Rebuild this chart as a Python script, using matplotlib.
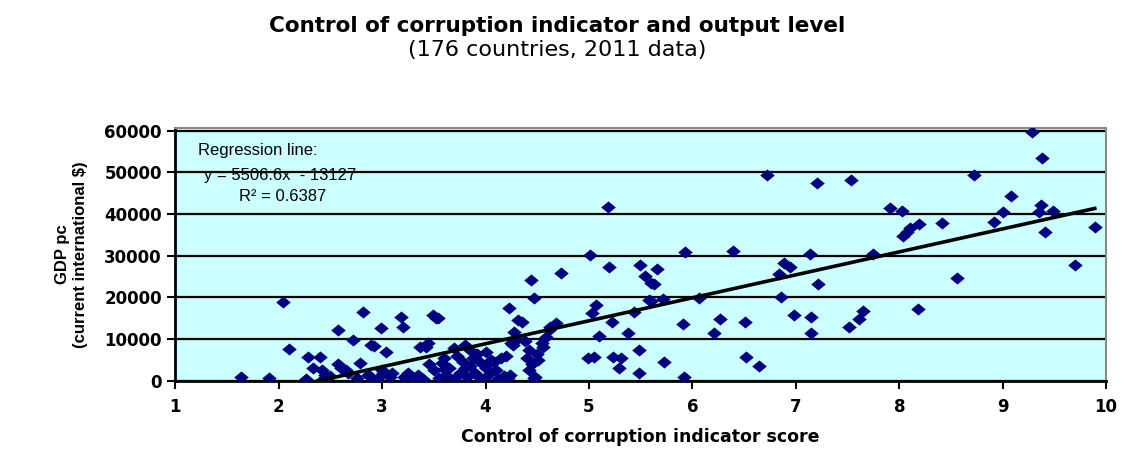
import numpy as np
import matplotlib.pyplot as plt
from matplotlib.path import Path

# control of corruption score (x) and GDP per capita (y)
score = [
    1.64, 1.91, 2.04, 2.10, 2.26, 2.28, 2.33, 2.40, 2.42, 2.42, 2.45, 2.57, 2.57, 2.65,
    2.67, 2.72, 2.76, 2.79, 2.82, 2.86, 2.89, 2.89, 2.92, 2.95, 2.99, 3.01, 3.04, 3.08,
    3.10, 3.18, 3.20, 3.21, 3.25, 3.30, 3.35, 3.37, 3.40, 3.42, 3.44, 3.45, 3.49, 3.50,
    3.52, 3.54, 3.55, 3.58, 3.60, 3.62, 3.65, 3.70, 3.70, 3.72, 3.75, 3.78, 3.80, 3.82,
    3.85, 3.85, 3.88, 3.90, 3.92, 3.95, 3.95, 4.00, 4.00, 4.02, 4.05, 4.08, 4.10, 4.12,
    4.15, 4.18, 4.20, 4.22, 4.23, 4.24, 4.25, 4.27, 4.28, 4.30, 4.31, 4.35, 4.38, 4.40,
    4.42, 4.42, 4.44, 4.45, 4.47, 4.47, 4.48, 4.50, 4.51, 4.55, 4.56, 4.58, 4.61, 4.62,
    4.68, 4.73, 4.99, 5.01, 5.03, 5.05, 5.07, 5.10, 5.18, 5.19, 5.22, 5.23, 5.29, 5.31,
    5.38, 5.44, 5.48, 5.48, 5.49, 5.54, 5.58, 5.60, 5.60, 5.63, 5.66, 5.72, 5.73, 5.91,
    5.92, 5.93, 6.06, 6.21, 6.27, 6.39, 6.51, 6.52, 6.64, 6.72, 6.84, 6.86, 6.89, 6.94,
    6.98, 7.14, 7.15, 7.15, 7.20, 7.21, 7.51, 7.53, 7.61, 7.65, 7.75, 7.91, 8.03, 8.04,
    8.07, 8.10, 8.18, 8.19, 8.41, 8.56, 8.72, 8.92, 9.00, 9.08, 9.28, 9.35, 9.37, 9.38,
    9.41, 9.49, 9.70, 9.89, 2.60, 3.00, 4.00, 3.60, 2.50, 3.80,
]
gdp = [
    1000, 700, 18900, 7600, 500, 5700, 3100, 5700, 2600, 200, 1500, 12200, 4100, 2600,
    1900, 9800, 700, 4300, 16500, 1500, 8600, 1000, 8400, 500, 12700, 1900, 6900, 1000,
    2000, 15300, 12900, 1000, 1800, 800, 1500, 8100, 500, 8100, 9100, 4000, 15800, 2500,
    15000, 15100, 800, 4200, 5500, 1500, 3000, 8000, 500, 6000, 2000, 4500, 8500, 1000,
    7500, 3500, 5500, 2000, 6500, 800, 4500, 3000, 7000, 1500, 5000, 4500, 2500, 500,
    5500, 1200, 6000, 800, 17400, 1400, 9000, 8600, 11700, 10000, 14600, 14000, 9500, 5500,
    7400, 2600, 24200, 4000, 19800, 700, 900, 6500, 5000, 9000, 8100, 10500, 12200, 13000,
    13900, 25800, 5500, 30100, 16300, 5700, 18200, 10800, 41600, 27300, 14100, 5700, 3100, 5500,
    11500, 16500, 7400, 1900, 27700, 25100, 19400, 23400, 19100, 23200, 26800, 19600, 4500, 13600,
    1000, 30900, 19900, 11500, 14800, 31100, 14100, 5700, 3600, 49300, 25600, 20100, 28200, 27300,
    15800, 30400, 15300, 11500, 47400, 23200, 12900, 48100, 14800, 16700, 30400, 41400, 40700, 34700,
    35600, 36600, 17200, 37600, 37800, 24600, 49300, 38000, 40400, 44300, 59600, 40400, 42100, 53300,
    35600, 40700, 27700, 36800, 3000, 2500, 3800, 2800, 1200, 3000,
]

slope, intercept = 5506.6, -13127
x_ticks = list(range(1, 11))
y_ticks = list(range(0, 60001, 10000))

# slightly wide diamond, like the stretched Excel marker
diamond = Path([(-1.2, 0), (0, 1), (1.2, 0), (0, -1), (-1.2, 0)], closed=True)

fig = plt.figure(figsize=(11.23, 4.54), dpi=100)
ax = fig.add_axes([0.156, 0.161, 0.829, 0.557])
ax.set_facecolor('#CCFFFF')

ax.scatter(score, gdp, marker=diamond, s=110, color='#000080', zorder=3, linewidths=0)

xl = np.array([min(score), max(score)])
ax.plot(xl, slope * xl + intercept, color='black', lw=2.6, zorder=4)

ax.set_xlim(1, 10)
ax.set_ylim(0, 60600)
ax.set_xticks(x_ticks)
ax.set_yticks(y_ticks)
ax.grid(axis='y', color='black', lw=1.6, zorder=1)
ax.set_axisbelow(True)

for side in ['left', 'bottom']:
    ax.spines[side].set_linewidth(2)
    ax.spines[side].set_color('black')
for side in ['top', 'right']:
    ax.spines[side].set_linewidth(1.5)
    ax.spines[side].set_color('#888888')

ax.tick_params(axis='both', direction='out', length=6, width=1.5, labelsize=12)
ax.tick_params(axis='x', pad=6)
for lab in ax.get_xticklabels() + ax.get_yticklabels():
    lab.set_fontweight('bold')
    lab.set_family('DejaVu Sans')

txt = dict(family='Liberation Sans', fontsize=12, zorder=5)
ax.text(1.22, 54250, 'Regression line:', **txt)
ax.text(1.28, 48140, 'y = 5506.6x  - 13127', **txt)
ax.text(1.62, 43200, 'R² = 0.6387', **txt)

ax.set_xlabel('Control of corruption indicator score', family='DejaVu Sans',
              fontsize=12.5, fontweight='bold', labelpad=9)
ax.set_ylabel('GDP pc\n(current international $)', family='Liberation Sans',
              fontsize=12, fontweight='bold', labelpad=12)

fig.text(0.496, 0.942, 'Control of corruption indicator and output level',
         ha='center', va='center', family='DejaVu Sans', fontsize=15.5, fontweight='bold')
fig.text(0.496, 0.89, '(176 countries, 2011 data)', ha='center', va='center',
         family='DejaVu Sans', fontsize=16)

fig.savefig('out.png', dpi=100)
